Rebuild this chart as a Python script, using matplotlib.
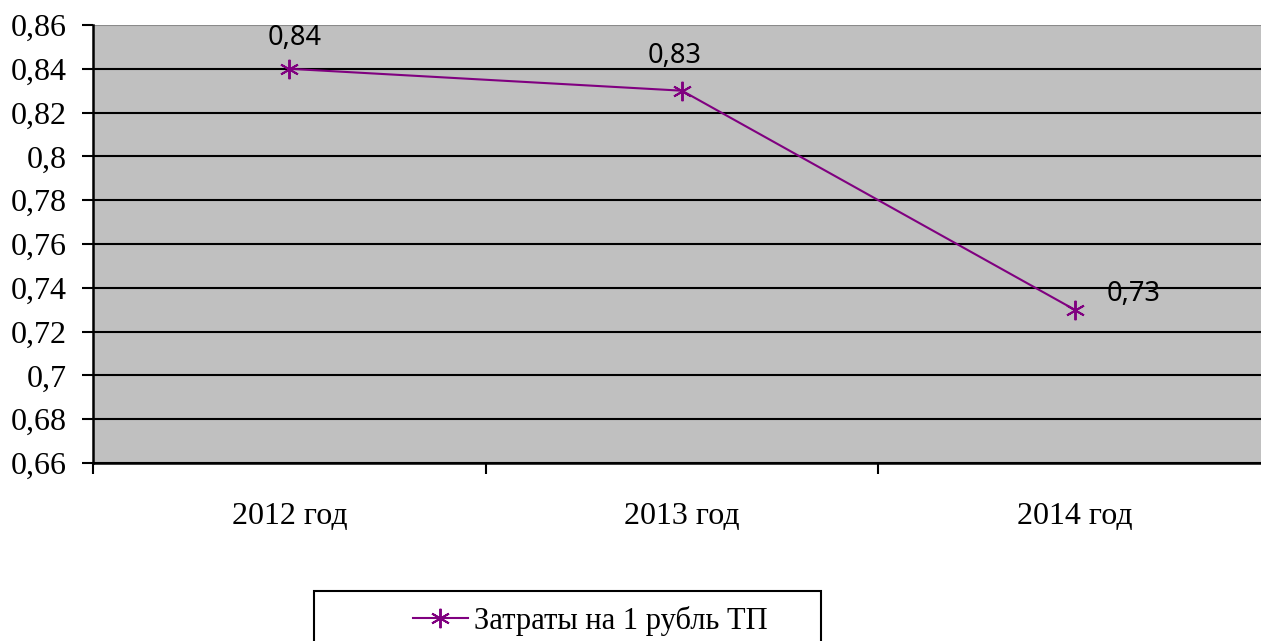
import matplotlib
matplotlib.use("Agg")
import matplotlib.pyplot as plt
from matplotlib.patches import Rectangle
from matplotlib.ticker import FuncFormatter, MultipleLocator, FixedLocator

# data
years = ["2012 год", "2013 год", "2014 год"]
values = [0.84, 0.83, 0.73]
series_name = "Затраты на 1 рубль ТП"
yticks = [0.66, 0.68, 0.70, 0.72, 0.74, 0.76, 0.78, 0.80, 0.82, 0.84, 0.86]

W, H = 1261, 641
fig = plt.figure(figsize=(W / 100, H / 100), dpi=100)
# plot area continues past the right edge of the picture, as in the source
ax = fig.add_axes([93 / W, 1 - 463 / H, 1178 / W, 438 / H])
ax.set_facecolor("#C0C0C0")

x = list(range(len(years)))
ax.plot(x, values, color="#800080", lw=1.5, marker=(6, 2, 0), ms=14, mew=1.4,
        label=series_name, zorder=3)

# data labels (offsets in points from the marker, baseline aligned)
offsets = [(4, 17, "center"), (-5, 20, "center"), (23, 6, "left")]
for xi, v, (dx, dy, ha) in zip(x, values, offsets):
    ax.annotate(f"{v:.2f}".replace(".", ","), (xi, v), xytext=(dx, dy),
                textcoords="offset points", ha=ha, va="baseline",
                fontsize=19.5, family="Noto Sans", color="black")

ax.set_xlim(-0.5, len(years) - 0.5)
ax.set_ylim(0.66, 0.86)
ax.yaxis.set_major_locator(FixedLocator(yticks))
ax.yaxis.set_major_formatter(FuncFormatter(lambda v, p: f"{v:g}".replace(".", ",")))
ax.grid(axis="y", color="black", lw=1.5, zorder=1)
ax.set_axisbelow(True)
ax.yaxis.get_gridlines()[-1].set_color("#8a8a8a")

ax.set_xticks(x)
ax.set_xticklabels(years)
ax.xaxis.set_minor_locator(MultipleLocator(1, offset=0.5))
ax.tick_params(axis="x", which="major", length=0, pad=28)
ax.tick_params(axis="x", which="minor", length=8, width=1.5, direction="out")
ax.tick_params(axis="y", length=8, width=1.5, direction="out", pad=11)
for lab in ax.get_xticklabels() + ax.get_yticklabels():
    lab.set_family("Liberation Serif")
    lab.set_fontsize(23)

for s in ["top", "right"]:
    ax.spines[s].set_visible(False)
ax.spines["left"].set_linewidth(1.8)
ax.spines["bottom"].set_linewidth(1.8)

# legend box (cut by the bottom edge in the source)
fig.patches.append(Rectangle((314 / W, -0.05), (821 - 314) / W, 0.05 + 1 - 591 / H,
                             transform=fig.transFigure, fill=False,
                             edgecolor="black", lw=1.5))
leg = fig.legend(loc="center", bbox_to_anchor=(590 / W, 1 - 621 / H),
                 frameon=False, handlelength=1.8, handletextpad=0.2,
                 prop={"family": "Liberation Serif", "size": 22})

fig.savefig("out.png", dpi=100)
